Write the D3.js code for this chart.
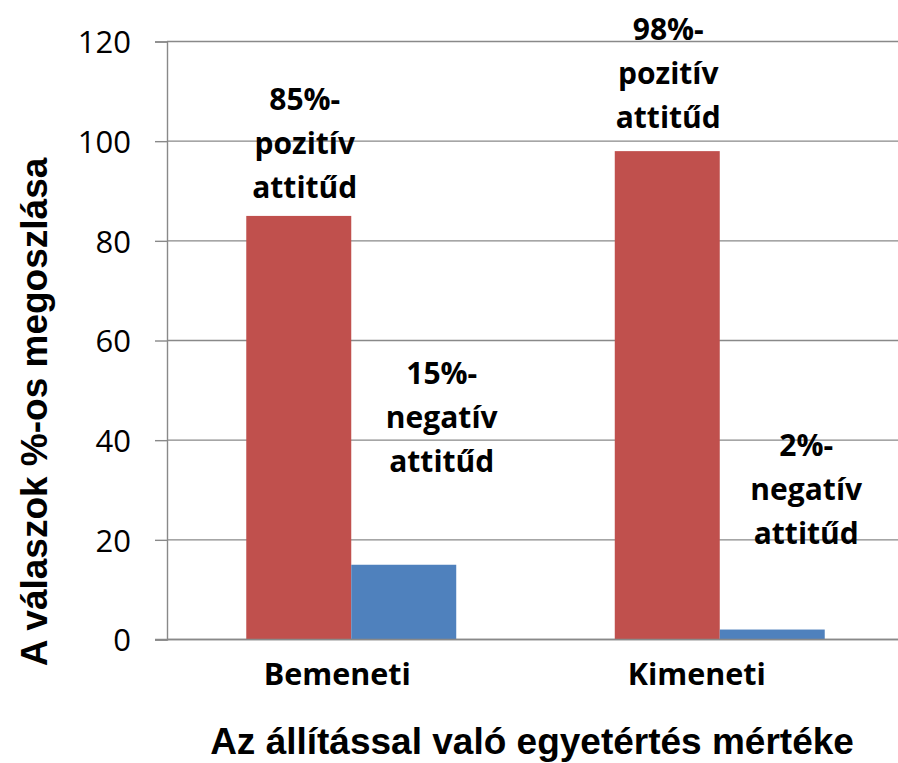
<!DOCTYPE html>
<html>
<head>
<meta charset="utf-8">
<script src="https://cdn.jsdelivr.net/npm/d3@7"></script>
<style>
  body { margin: 0; background: #fff; }
  svg { display: block; }
</style>
</head>
<body>
<script>
// data
var categories = ["Bemeneti", "Kimeneti"];
var seriesNames = ["pozitív", "negatív"];
var pozitiv = [85, 98];
var negativ = [15, 2];
var yTicks = [0, 20, 40, 60, 80, 100, 120];
var barLabels = [
    ["85%-", "pozitív", "attitűd"],
    ["15%-", "negatív", "attitűd"],
    ["98%-", "pozitív", "attitűd"],
    ["2%-", "negatív", "attitűd"]
];

var width = 898;
var height = 763;
var colors = { "pozitív": "#C0504D", "negatív": "#4F81BD" };

var svg = d3.select("body")
    .append("svg")
    .attr("width", width)
    .attr("height", height);

// scales
var x = d3.scaleBand()
    .domain(categories)
    .range([167, 904])
    .paddingInner(0)
    .paddingOuter(0);

var xs = d3.scaleBand()
    .domain(seriesNames)
    .range([0, x.bandwidth()])
    .paddingInner(0)
    .paddingOuter(0.755);

var y = d3.scaleLinear()
    .domain([0, 120])
    .range([639.5, 41.5]);

// y axis with ticks to the left
var yAxis = d3.axisLeft(y)
    .tickValues(yTicks)
    .tickSize(12)
    .tickPadding(24);

var gy = svg.append("g")
    .attr("transform", "translate(167,0)")
    .call(yAxis);

gy.select(".domain").attr("stroke", "#898989").attr("stroke-width", 1.4);
gy.selectAll(".tick line").attr("stroke", "#898989").attr("stroke-width", 1.4);
gy.selectAll(".tick text")
    .attr("font-family", "'Open Sans', 'Noto Sans', sans-serif")
    .attr("font-size", 31)
    .attr("fill", "#000")
    .attr("dy", "0.36em");

// gridlines
svg.append("g")
    .selectAll("line")
    .data(yTicks)
    .enter()
    .append("line")
    .attr("x1", 167)
    .attr("x2", width)
    .attr("y1", function(d) { return y(d); })
    .attr("y2", function(d) { return y(d); })
    .attr("stroke", "#898989")
    .attr("stroke-width", 1.4);

// bars
var rows = [];
categories.forEach(function(c, i) {
    rows.push({ cat: c, series: "pozitív", value: pozitiv[i] });
    rows.push({ cat: c, series: "negatív", value: negativ[i] });
});

svg.append("g")
    .selectAll("rect")
    .data(rows)
    .enter()
    .append("rect")
    .attr("x", function(d) { return x(d.cat) + xs(d.series); })
    .attr("y", function(d) { return y(d.value); })
    .attr("width", xs.bandwidth())
    .attr("height", function(d) { return y(0) - y(d.value); })
    .attr("fill", function(d) { return colors[d.series]; });

// redraw the zero line over the bars
svg.append("line")
    .attr("x1", 155)
    .attr("x2", width)
    .attr("y1", y(0))
    .attr("y2", y(0))
    .attr("stroke", "#898989")
    .attr("stroke-width", 1.4);

// bar labels (placed by hand in the original, so offsets per bar)
var labelShift = [
    { dx: 6, dy: -18 },
    { dx: 38, dy: -93 },
    { dx: 1, dy: -23 },
    { dx: 34, dy: -86 }
];
var lineGap = 44;

var labelG = svg.append("g")
    .attr("font-family", "'Open Sans', 'Noto Sans', sans-serif")
    .attr("font-weight", "bold")
    .attr("font-size", 30)
    .attr("text-anchor", "middle")
    .attr("fill", "#000");

rows.forEach(function(d, i) {
    var cx = x(d.cat) + xs(d.series) + xs.bandwidth() / 2 + labelShift[i].dx;
    var lastY = y(d.value) + labelShift[i].dy;
    var lines = barLabels[i];
    lines.forEach(function(t, j) {
        labelG.append("text")
            .attr("x", cx)
            .attr("y", lastY - (lines.length - 1 - j) * lineGap)
            .text(t);
    });
});

// category labels
svg.append("g")
    .selectAll("text")
    .data(categories)
    .enter()
    .append("text")
    .attr("x", function(d, i) { return x(d) + x.bandwidth() / 2 + (i === 0 ? -14 : -23); })
    .attr("y", 685)
    .attr("text-anchor", "middle")
    .attr("font-family", "'Open Sans', 'Noto Sans', sans-serif")
    .attr("font-weight", "bold")
    .attr("font-size", 30.5)
    .attr("fill", "#000")
    .text(function(d) { return d; });

// axis titles
svg.append("text")
    .attr("x", 532)
    .attr("y", 754)
    .attr("text-anchor", "middle")
    .attr("font-family", "'Liberation Sans', Arial, sans-serif")
    .attr("font-weight", "bold")
    .attr("font-size", 37)
    .attr("fill", "#000")
    .text("Az állítással való egyetértés mértéke");

svg.append("text")
    .attr("transform", "translate(47,412) rotate(-90)")
    .attr("text-anchor", "middle")
    .attr("font-family", "'Liberation Sans', Arial, sans-serif")
    .attr("font-weight", "bold")
    .attr("font-size", 37)
    .attr("fill", "#000")
    .text("A válaszok %-os megoszlása");
</script>
</body>
</html>
